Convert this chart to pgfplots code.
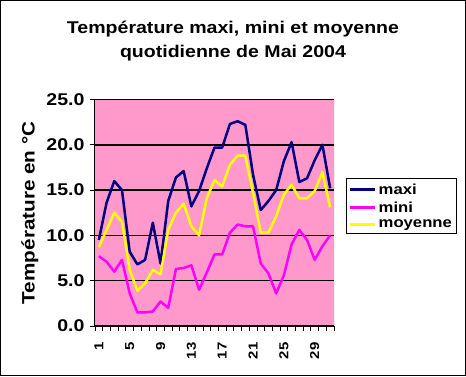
\documentclass[border=0pt]{standalone}
\usepackage{fontspec}
\setmainfont{Liberation Sans}[FakeStretch=1.15]
\usepackage{pgfplots}
\pgfplotsset{compat=1.18}
\definecolor{pinkbg}{HTML}{FF99CC}
\definecolor{maxic}{HTML}{000080}
\definecolor{minic}{HTML}{FF00FF}
\definecolor{moyc}{HTML}{FFFF00}
\begin{document}
\begin{tikzpicture}
\useasboundingbox (0,0) rectangle (466pt,376pt);
\fill[white] (0,0) rectangle (466pt,376pt);
\draw[line width=1pt] (0.5pt,0.5pt) rectangle (465.5pt,375.5pt);
\node[align=center, font=\bfseries\fontsize{17}{24}\selectfont] at (233pt,335pt) {Température maxi, mini et moyenne\\quotidienne de Mai 2004};
\begin{axis}[
  at={(95pt,50pt)}, anchor=south west,
  scale only axis, width=239pt, height=226.5pt,
  xmin=0.5, xmax=31.5, ymin=0, ymax=25,
  axis lines=left, axis line style={-, black, line width=1pt},
  axis background/.style={fill=pinkbg},
  tick align=outside,
  xtick={0.5,1.5,...,31.5}, xticklabels={},
  extra x ticks={1,5,9,13,17,21,25,29},
  extra x tick labels={1,5,9,13,17,21,25,29},
  extra x tick style={major tick length=0pt},
  major tick length=5pt,
  tick style={black, line width=0.8pt},
  xticklabel style={rotate=90, anchor=east, font=\bfseries\fontsize{13}{15}\selectfont, xshift=-13pt},
  ytick={0,5,...,25},
  yticklabel style={font=\bfseries\fontsize{17}{19}\selectfont, xshift=-2pt, /pgf/number format/.cd, fixed, fixed zerofill, precision=1},
  /pgf/number format/assume math mode=true,
  ymajorgrids, major grid style={black, line width=1.5pt},
  ylabel={Température en °C},
  every axis y label/.style={at={(axis description cs:-0.272,0.5)}, rotate=90, anchor=center, font=\bfseries\fontsize{18}{20}\selectfont},
  legend style={at={(1.049,0.653)}, anchor=north west, draw=black, line width=1pt, font=\bfseries\fontsize{14.5}{18}\selectfont, inner sep=3pt, row sep=2pt},
  legend cell align=left,
  legend image code/.code={\draw[#1, line width=2.5pt] (0pt,0pt) -- (25pt,0pt);},
  every axis plot/.append style={line width=2.5pt, line join=round, mark=none},
]
\addplot[color=maxic] coordinates {(1,9.5)(2,13.6)(3,16.0)(4,15.0)(5,8.2)(6,6.8)(7,7.3)(8,11.4)(9,6.9)(10,13.8)(11,16.4)(12,17.1)(13,13.2)(14,14.9)(15,17.4)(16,19.7)(17,19.7)(18,22.3)(19,22.6)(20,22.2)(21,16.7)(22,12.8)(23,13.8)(24,15.0)(25,18.2)(26,20.3)(27,15.9)(28,16.3)(29,18.3)(30,20.0)(31,15.2)};
\addlegendentry{maxi}
\addplot[color=minic] coordinates {(1,7.7)(2,7.1)(3,6.0)(4,7.3)(5,3.6)(6,1.5)(7,1.5)(8,1.6)(9,2.7)(10,2.0)(11,6.3)(12,6.4)(13,6.7)(14,4.0)(15,5.9)(16,7.9)(17,7.9)(18,10.3)(19,11.2)(20,11.0)(21,11.0)(22,6.9)(23,5.8)(24,3.6)(25,5.6)(26,9.0)(27,10.6)(28,9.5)(29,7.3)(30,8.8)(31,10.0)};
\addlegendentry{mini}
\addplot[color=moyc] coordinates {(1,8.7)(2,10.6)(3,12.5)(4,11.5)(5,6.2)(6,3.9)(7,4.7)(8,6.2)(9,5.7)(10,10.6)(11,12.5)(12,13.5)(13,11.0)(14,10.0)(15,14.1)(16,16.1)(17,15.4)(18,17.8)(19,18.8)(20,18.8)(21,14.7)(22,10.3)(23,10.3)(24,12.1)(25,14.5)(26,15.6)(27,14.1)(28,14.1)(29,14.9)(30,17.0)(31,13.1)};
\addlegendentry{moyenne}
\draw[gray, line width=1pt] (rel axis cs:1,0) -- (rel axis cs:1,1);
\end{axis}
\end{tikzpicture}
\end{document}
